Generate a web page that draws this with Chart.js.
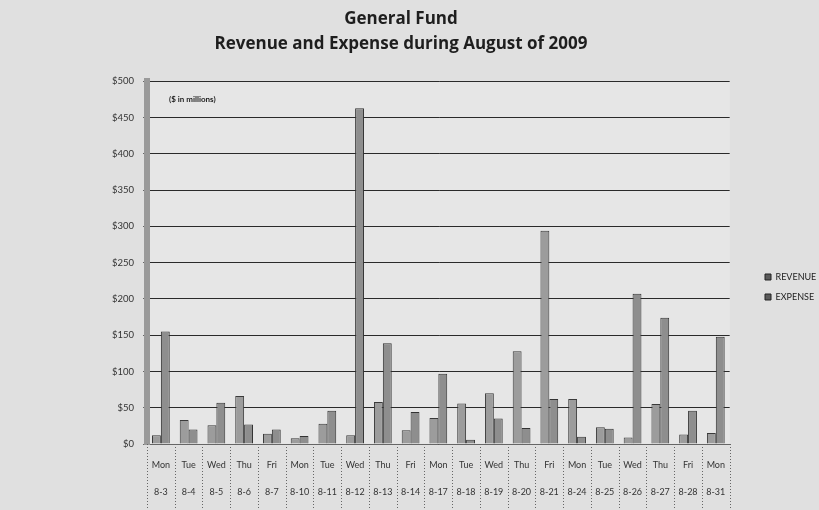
<!DOCTYPE html>
<html>
<head>
<meta charset="utf-8">
<script src="https://cdn.jsdelivr.net/npm/chart.js@4.4.1/dist/chart.umd.min.js"></script>
<style>
  html, body { margin: 0; padding: 0; background: #e2e2e2; }
  #wrap { width: 819px; height: 510px; position: relative; }
</style>
</head>
<body>
<div id="wrap"><canvas id="c"></canvas></div>
<script>
const days = ["Mon","Tue","Wed","Thu","Fri","Mon","Tue","Wed","Thu","Fri","Mon","Tue","Wed","Thu","Fri","Mon","Tue","Wed","Thu","Fri","Mon"];
const dates = ["8-3","8-4","8-5","8-6","8-7","8-10","8-11","8-12","8-13","8-14","8-17","8-18","8-19","8-20","8-21","8-24","8-25","8-26","8-27","8-28","8-31"];
const revenue = [12, 33, 26, 66, 14, 8, 28, 12, 58, 19, 36, 56, 70, 128, 294, 62, 23, 9, 55, 13, 15];
const expense = [155, 20, 57, 27, 20, 11, 46, 463, 139, 44, 97, 6, 35, 22, 62, 10, 21, 207, 174, 46, 148];
const yTicks = [0, 50, 100, 150, 200, 250, 300, 350, 400, 450, 500];

const labels = days.map((d, i) => [d, dates[i]]);
const AXFONT = 'Lato, "Liberation Sans", sans-serif';

const bgPlugin = {
  id: 'bg',
  afterLayout(chart) {
    const lg = chart.legend;
    if (lg) {
      const dx = 754 - lg.left;
      lg.left += dx; lg.right += dx;
      lg.top += 32; lg.bottom += 32;
    }
  },
  beforeDraw(chart) {
    const ctx = chart.ctx;
    ctx.save();
    ctx.fillStyle = '#e0e0e0';
    ctx.fillRect(0, 0, chart.width, chart.height);
    const a = chart.chartArea;
    ctx.fillStyle = '#e6e6e6';
    ctx.fillRect(a.left, a.top, a.right - a.left, a.bottom - a.top);
    ctx.restore();
  },
  afterDraw(chart) {
    const ctx = chart.ctx;
    const a = chart.chartArea;
    const xs = chart.scales.x;
    ctx.save();
    ctx.fillStyle = '#222';
    ctx.font = 'bold 8px ' + AXFONT;
    ctx.textBaseline = 'middle';
    ctx.fillText('($ in millions)', a.left + 22, a.top + 18);
    // category dividers of the two-level axis table
    const half = (xs.getPixelForValue(1) - xs.getPixelForValue(0)) / 2;
    ctx.strokeStyle = '#666';
    ctx.lineWidth = 1;
    ctx.setLineDash([1, 2]);
    for (let i = 0; i <= labels.length; i++) {
      const x = Math.round(xs.getPixelForValue(i) - half) + 0.5;
      ctx.beginPath();
      ctx.moveTo(x, a.bottom);
      ctx.lineTo(x, chart.height - 2);
      ctx.stroke();
    }
    ctx.restore();
  }
};

new Chart(document.getElementById('c'), {
  type: 'bar',
  data: {
    labels: labels,
    datasets: [
      { label: 'REVENUE', data: revenue, backgroundColor: '#9c9c9c', borderColor: '#3a3a3a', borderWidth: 1 },
      { label: 'EXPENSE', data: expense, backgroundColor: '#8e8e8e', borderColor: '#333333', borderWidth: 1 }
    ]
  },
  options: {
    responsive: true,
    maintainAspectRatio: false,
    animation: false,
    devicePixelRatio: 1,
    datasets: { bar: { categoryPercentage: 0.64, barPercentage: 1.0 } },
    layout: { padding: { left: 0, right: 17, top: 0, bottom: 0 } },
    plugins: {
      title: {
        display: true,
        text: ['General Fund', 'Revenue and Expense during August of 2009'],
        color: '#1e1e1e',
        font: { family: '"Open Sans", "Liberation Sans", sans-serif', size: 17, weight: 'bold', lineHeight: 1.45 },
        padding: { top: 7, bottom: 25 }
      },
      legend: {
        position: 'right',
        align: 'center',
        labels: {
          color: '#222',
          boxWidth: 6,
          boxHeight: 6,
          padding: 11,
          font: { family: AXFONT, size: 9 },
          generateLabels(chart) {
            const items = Chart.defaults.plugins.legend.labels.generateLabels(chart);
            items.forEach(it => { it.fillStyle = '#5a5a5a'; it.strokeStyle = '#222'; });
            return items;
          }
        }
      },
      tooltip: { enabled: false }
    },
    scales: {
      x: {
        grid: { offset: true, drawOnChartArea: false, drawTicks: false },
        border: { color: '#666', width: 1 },
        afterFit(scale) { scale.height = 66; },
        ticks: {
          color: '#333',
          padding: 8,
          maxRotation: 0,
          autoSkip: false,
          font: { family: AXFONT, size: 9, lineHeight: 3 }
        }
      },
      y: {
        min: 0,
        max: 500,
        afterBuildTicks(scale) { scale.ticks = yTicks.map(v => ({ value: v })); },
        afterFit(scale) { scale.width = 147; },
        grid: { color: '#2a2a2a', lineWidth: 1, drawTicks: true, tickLength: 4, tickColor: '#666' },
        border: { color: '#9a9a9a', width: 6 },
        ticks: {
          color: '#333',
          padding: 9,
          font: { family: AXFONT, size: 9.5 },
          callback: v => '$' + v
        }
      }
    }
  },
  plugins: [bgPlugin]
});
</script>
</body>
</html>
